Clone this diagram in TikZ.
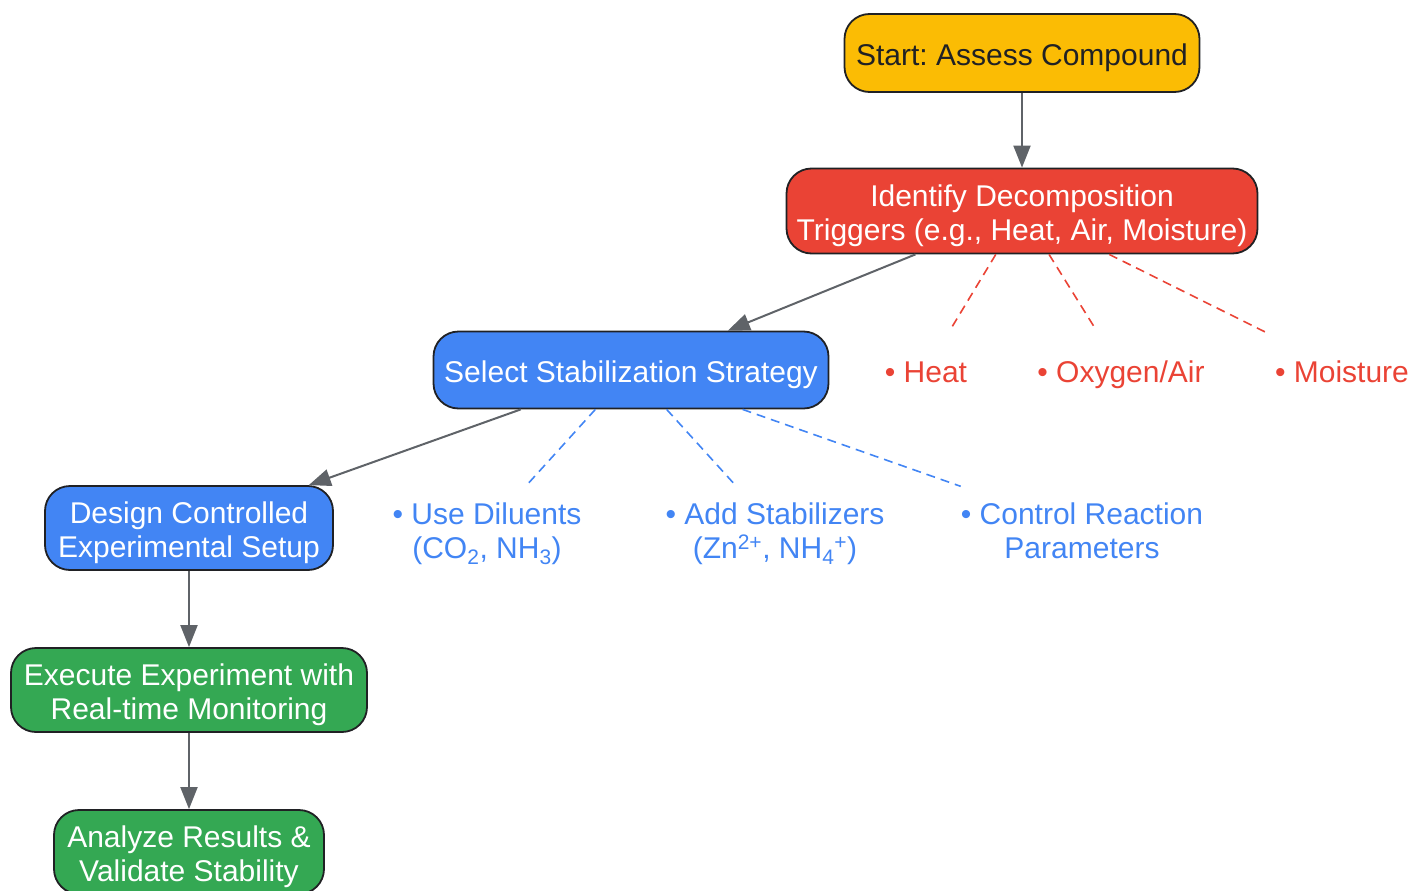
\documentclass[tikz,border=0pt]{standalone}
\usepackage{fontspec}
\setmainfont{Liberation Sans}
\usetikzlibrary{arrows.meta}
\definecolor{gyellow}{HTML}{FBBC04}
\definecolor{gred}{HTML}{EA4335}
\definecolor{gblue}{HTML}{4285F4}
\definecolor{ggreen}{HTML}{34A853}
\definecolor{boxborder}{HTML}{202124}
\definecolor{textdark}{HTML}{202124}
\definecolor{arrowgray}{HTML}{5F6368}
\newcommand{\topstrut}{\rule{0pt}{33pt}}
\newcommand{\botstrut}{\rule[-8pt]{0pt}{8pt}}
\begin{document}
\frenchspacing
\begin{tikzpicture}[x=1pt,y=-1pt,
  box/.style={draw=boxborder, line width=1.8pt, rounded corners=25pt, inner sep=0pt, align=center, font=\fontsize{30}{34}\selectfont},
  flow/.style={draw=arrowgray, line width=2pt, -{Triangle[length=22pt,width=17pt]}},
  lab/.style={inner ysep=0pt, inner xsep=10pt, align=center, font=\fontsize{30}{34}\selectfont},
  redlab/.style={lab, text=gred, minimum height=84pt},
  bluelab/.style={lab, text=gblue, minimum height=92pt},
  reddash/.style={draw=gred, line width=1.6pt, dash pattern=on 9pt off 6pt},
  bluedash/.style={draw=gblue, line width=1.6pt, dash pattern=on 9pt off 6pt},
]
\useasboundingbox (0,0) rectangle (1413,891);
\node[box, fill=gyellow, text=textdark, minimum width=355pt, minimum height=78pt] (start) at (1022,53) {\topstrut Start: Assess Compound\botstrut};
\node[box, fill=gred, text=white, minimum width=471pt, minimum height=85pt] (ident) at (1022,211) {\topstrut Identify Decomposition\\Triggers (e.g., Heat, Air, Moisture)\botstrut};
\node[box, fill=gblue, text=white, minimum width=395pt, minimum height=77pt] (select) at (631,370) {\topstrut Select Stabilization Strategy\botstrut};
\node[box, fill=gblue, text=white, minimum width=288pt, minimum height=84pt] (design) at (189,528) {\topstrut Design Controlled\\Experimental Setup\botstrut};
\node[box, fill=ggreen, text=white, minimum width=356pt, minimum height=84pt] (exec) at (189,690) {\topstrut Execute Experiment with\\Real-time Monitoring\botstrut};
\node[box, fill=ggreen, text=white, minimum width=270pt, minimum height=84pt] (analyze) at (189,852) {\topstrut Analyze Results \&\\Validate Stability\botstrut};

\node[redlab] (heat) at (926,370) {\topstrut • Heat\botstrut};
\node[redlab] (oxy) at (1121,370) {\topstrut • Oxygen/Air\botstrut};
\node[redlab] (moist) at (1342,370) {\topstrut • Moisture\botstrut};

\node[bluelab] (dil) at (487,529) {\topstrut • Use Diluents\\(CO\textsubscript{2}, NH\textsubscript{3})\botstrut};
\node[bluelab] (stab) at (775,529) {\topstrut • Add Stabilizers\\(Zn\textsuperscript{2+}, NH\textsubscript{4}\textsuperscript{+})\botstrut};
\node[bluelab, inner xsep=0pt] (ctrl) at (1082,529) {\topstrut • Control Reaction\\Parameters\botstrut};

\draw[flow] (start) -- (ident);
\draw[flow] (ident) -- (select);
\draw[flow] (select) -- (design);
\draw[flow] (design) -- (exec);
\draw[flow] (exec) -- (analyze);

\draw[reddash] (ident) -- (heat);
\draw[reddash] (ident) -- (oxy);
\draw[reddash] (ident) -- (moist);
\draw[bluedash] (select) -- (dil);
\draw[bluedash] (select) -- (stab);
\draw[bluedash] (select) -- (ctrl);
\end{tikzpicture}
\end{document}
